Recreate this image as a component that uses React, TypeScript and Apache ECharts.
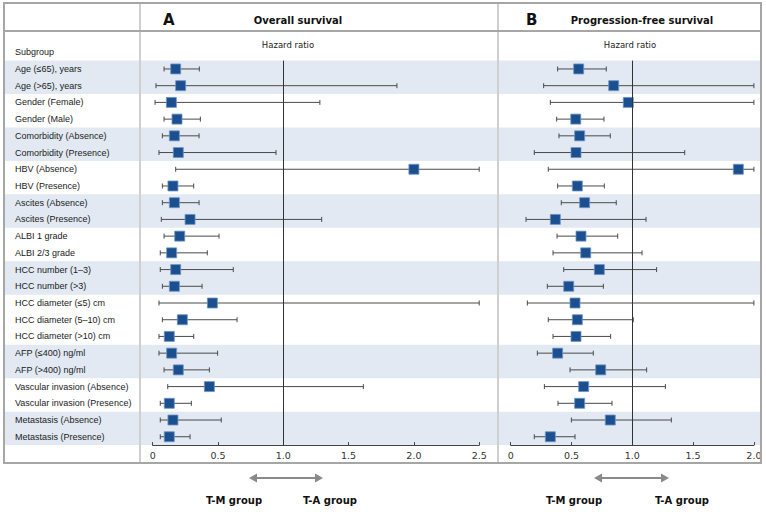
import React, { useEffect, useRef } from "react";
import * as echarts from "echarts";

const subgroups = [
  "Age (≤65), years",
  "Age (>65), years",
  "Gender (Female)",
  "Gender (Male)",
  "Comorbidity (Absence)",
  "Comorbidity (Presence)",
  "HBV (Absence)",
  "HBV (Presence)",
  "Ascites (Absence)",
  "Ascites (Presence)",
  "ALBI 1 grade",
  "ALBI 2/3 grade",
  "HCC number (1–3)",
  "HCC number (>3)",
  "HCC diameter (≤5) cm",
  "HCC diameter (5–10) cm",
  "HCC diameter (>10) cm",
  "AFP (≤400) ng/ml",
  "AFP (>400) ng/ml",
  "Vascular invasion (Absence)",
  "Vascular invasion (Presence)",
  "Metastasis (Absence)",
  "Metastasis (Presence)",
];

// Overall survival hazard ratios and 95% CI
const osHR = [0.176, 0.214, 0.143, 0.186, 0.166, 0.196, 2.0, 0.155, 0.166, 0.286, 0.207, 0.145, 0.176, 0.166, 0.457, 0.227, 0.127, 0.145, 0.196, 0.434, 0.127, 0.155, 0.127];
const osLow = [0.087, 0.025, 0.018, 0.087, 0.074, 0.048, 0.176, 0.074, 0.074, 0.066, 0.087, 0.058, 0.058, 0.074, 0.048, 0.074, 0.048, 0.048, 0.087, 0.115, 0.058, 0.058, 0.058];
const osHigh = [0.357, 1.87, 1.28, 0.365, 0.355, 0.944, 2.5, 0.314, 0.355, 1.294, 0.508, 0.418, 0.617, 0.378, 2.5, 0.646, 0.314, 0.497, 0.434, 1.613, 0.296, 0.525, 0.286];

// Progression-free survival hazard ratios and 95% CI
const pfsHR = [0.559, 0.847, 0.967, 0.535, 0.567, 0.537, 1.872, 0.548, 0.608, 0.367, 0.578, 0.617, 0.729, 0.477, 0.529, 0.548, 0.537, 0.386, 0.74, 0.6, 0.567, 0.819, 0.326];
const pfsLow = [0.386, 0.271, 0.326, 0.378, 0.397, 0.194, 0.309, 0.386, 0.416, 0.126, 0.381, 0.348, 0.436, 0.301, 0.137, 0.309, 0.348, 0.219, 0.488, 0.277, 0.389, 0.499, 0.194];
const pfsHigh = [0.786, 2.0, 2.0, 0.767, 0.819, 1.431, 2.0, 0.77, 0.868, 1.113, 0.88, 1.08, 1.2, 0.762, 2.0, 1.008, 0.822, 0.679, 1.118, 1.272, 0.833, 1.321, 0.529];

// first row index of each shaded (two-row) group
const shadedStarts = [0, 4, 8, 12, 17, 21];

const osTicks = { min: 0, max: 2.5, interval: 0.5 };
const pfsTicks = { min: 0, max: 2.0, interval: 0.5 };

// layout
const GRID_TOP = 60.6;
const GRID_H = 384.5;
const ROW_H = GRID_H / subgroups.length;
const A_LEFT = 152.7;
const A_W = 326.5;
const B_LEFT = 510.7;
const B_W = 243.2;

const MARK = "#1b4f8f";
const LABEL_FONT = "'Liberation Sans', Arial, sans-serif";
const HEAD_FONT = "'DejaVu Sans', Verdana, sans-serif";

function renderForest(params: any, api: any) {
  const idx = api.value(0);
  const lo = api.coord([api.value(1), idx]);
  const hr = api.coord([api.value(2), idx]);
  const hi = api.coord([api.value(3), idx]);
  const cap = 2.5;
  const s = 5;
  const lineStyle = { stroke: "#4a4a4a", lineWidth: 1 };
  return {
    type: "group",
    children: [
      { type: "line", shape: { x1: lo[0], y1: lo[1], x2: hi[0], y2: hi[1] }, style: lineStyle },
      { type: "line", shape: { x1: lo[0], y1: lo[1] - cap, x2: lo[0], y2: lo[1] + cap }, style: lineStyle },
      { type: "line", shape: { x1: hi[0], y1: hi[1] - cap, x2: hi[0], y2: hi[1] + cap }, style: lineStyle },
      {
        type: "rect",
        shape: { x: hr[0] - s, y: hr[1] - s, width: 2 * s, height: 2 * s },
        style: { fill: MARK, stroke: "#6d95c4", lineWidth: 0.8 },
      },
    ],
  };
}

function arrow(x1: number, x2: number, y: number) {
  const c = "#8a8a8a";
  return [
    { type: "line", shape: { x1: x1 + 4, y1: y, x2: x2 - 4, y2: y }, style: { stroke: c, lineWidth: 2.2 }, z: 5 },
    { type: "polygon", shape: { points: [[x1, y], [x1 + 8, y - 4.5], [x1 + 8, y + 4.5]] }, style: { fill: c }, z: 5 },
    { type: "polygon", shape: { points: [[x2, y], [x2 - 8, y - 4.5], [x2 - 8, y + 4.5]] }, style: { fill: c }, z: 5 },
  ];
}

export default function App() {
  const ref = useRef<HTMLDivElement>(null);
  useEffect(() => {
    if (!ref.current) return;
    const chart = echarts.init(ref.current, null, { renderer: "svg" });

    const osData = subgroups.map((_, i) => [i, osLow[i], osHR[i], osHigh[i]]);
    const pfsData = subgroups.map((_, i) => [i, pfsLow[i], pfsHR[i], pfsHigh[i]]);

    const bands = shadedStarts.map((start) => ({
      type: "rect",
      shape: { x: 5, y: GRID_TOP + start * ROW_H, width: 755, height: 2 * ROW_H },
      style: { fill: "#e2e9f3" },
      z: 0,
    }));

    const lineColor = "#a6a6a6";
    const divColor = "#cfcfcf";

    const xAxisBase = (t: any, gridIndex: number) => ({
      type: "value",
      gridIndex,
      min: t.min,
      max: t.max,
      interval: t.interval,
      axisLine: { show: true, lineStyle: { color: "#444", width: 1 } },
      axisTick: { show: true, inside: true, length: 3, lineStyle: { color: "#444" } },
      splitLine: { show: false },
      axisLabel: {
        color: "#333",
        fontSize: 9.5,
        fontFamily: HEAD_FONT,
        margin: 5,
        formatter: (v: number) => (v === 0 ? "0" : v.toFixed(1)),
      },
    });

    const yAxisBase = (gridIndex: number, showLabel: boolean) => ({
      type: "category",
      gridIndex,
      data: subgroups,
      inverse: true,
      axisLine: { show: false },
      axisTick: { show: false },
      splitLine: { show: false },
      axisLabel: showLabel
        ? {
            show: true,
            align: "left",
            margin: A_LEFT - 15,
            color: "#1a1a1a",
            fontSize: 9,
            fontFamily: LABEL_FONT,
          }
        : { show: false },
    });

    const refLine = {
      silent: true,
      symbol: ["none", "none"],
      label: { show: false },
      lineStyle: { color: "#333", width: 1, type: "solid" },
      data: [{ xAxis: 1 }],
    };

    chart.setOption({
      animation: false,
      grid: [
        { left: A_LEFT, top: GRID_TOP, width: A_W, height: GRID_H, containLabel: false },
        { left: B_LEFT, top: GRID_TOP, width: B_W, height: GRID_H, containLabel: false },
      ],
      xAxis: [xAxisBase(osTicks, 0), xAxisBase(pfsTicks, 1)],
      yAxis: [yAxisBase(0, true), yAxisBase(1, false)],
      series: [
        {
          type: "custom",
          name: "Overall survival",
          xAxisIndex: 0,
          yAxisIndex: 0,
          renderItem: renderForest,
          encode: { x: [1, 2, 3], y: 0 },
          data: osData,
          clip: false,
          z: 3,
          markLine: refLine,
        },
        {
          type: "custom",
          name: "Progression-free survival",
          xAxisIndex: 1,
          yAxisIndex: 1,
          renderItem: renderForest,
          encode: { x: [1, 2, 3], y: 0 },
          data: pfsData,
          clip: false,
          z: 3,
          markLine: refLine,
        },
      ],
      graphic: [
        ...bands,
        { type: "line", shape: { x1: 140, y1: 3, x2: 140, y2: 463 }, style: { stroke: divColor, lineWidth: 2 }, z: 1 },
        { type: "line", shape: { x1: 498, y1: 3, x2: 498, y2: 463 }, style: { stroke: divColor, lineWidth: 2 }, z: 1 },
        { type: "line", shape: { x1: 4, y1: 31, x2: 761, y2: 31 }, style: { stroke: lineColor, lineWidth: 2 }, z: 1 },
        { type: "rect", shape: { x: 4, y: 3, width: 757, height: 460 }, style: { fill: "none", stroke: lineColor, lineWidth: 2 }, z: 1 },
        // headers
        { type: "text", x: 163, y: 20, style: { text: "A", font: `bold 15px ${HEAD_FONT}`, fill: "#111", textVerticalAlign: "middle", textAlign: "left" }, z: 5 },
        { type: "text", x: 298, y: 20, style: { text: "Overall survival", font: `bold 10px ${HEAD_FONT}`, fill: "#111", textVerticalAlign: "middle", textAlign: "center" }, z: 5 },
        { type: "text", x: 526, y: 20, style: { text: "B", font: `bold 15px ${HEAD_FONT}`, fill: "#111", textVerticalAlign: "middle", textAlign: "left" }, z: 5 },
        { type: "text", x: 642, y: 20, style: { text: "Progression-free survival", font: `bold 10px ${HEAD_FONT}`, fill: "#111", textVerticalAlign: "middle", textAlign: "center" }, z: 5 },
        { type: "text", x: 15, y: 52, style: { text: "Subgroup", font: `9px ${LABEL_FONT}`, fill: "#1a1a1a", textVerticalAlign: "middle", textAlign: "left" }, z: 5 },
        { type: "text", x: 288, y: 45, style: { text: "Hazard ratio", font: `8.5px ${HEAD_FONT}`, fill: "#1a1a1a", textVerticalAlign: "middle", textAlign: "center" }, z: 5 },
        { type: "text", x: 630, y: 45, style: { text: "Hazard ratio", font: `8.5px ${HEAD_FONT}`, fill: "#1a1a1a", textVerticalAlign: "middle", textAlign: "center" }, z: 5 },
        // direction arrows
        ...arrow(249, 323, 478),
        ...arrow(594, 669, 478),
        { type: "text", x: 234, y: 500, style: { text: "T-M group", font: `bold 10px ${HEAD_FONT}`, fill: "#111", textVerticalAlign: "middle", textAlign: "center" }, z: 5 },
        { type: "text", x: 330, y: 500, style: { text: "T-A group", font: `bold 10px ${HEAD_FONT}`, fill: "#111", textVerticalAlign: "middle", textAlign: "center" }, z: 5 },
        { type: "text", x: 574, y: 500, style: { text: "T-M group", font: `bold 10px ${HEAD_FONT}`, fill: "#111", textVerticalAlign: "middle", textAlign: "center" }, z: 5 },
        { type: "text", x: 682, y: 500, style: { text: "T-A group", font: `bold 10px ${HEAD_FONT}`, fill: "#111", textVerticalAlign: "middle", textAlign: "center" }, z: 5 },
      ],
    });
    return () => chart.dispose();
  }, []);

  return (
    <div
      ref={ref}
      style={{ position: "fixed", left: 0, top: 0, width: 766, height: 512, background: "#fff" }}
    />
  );
}
